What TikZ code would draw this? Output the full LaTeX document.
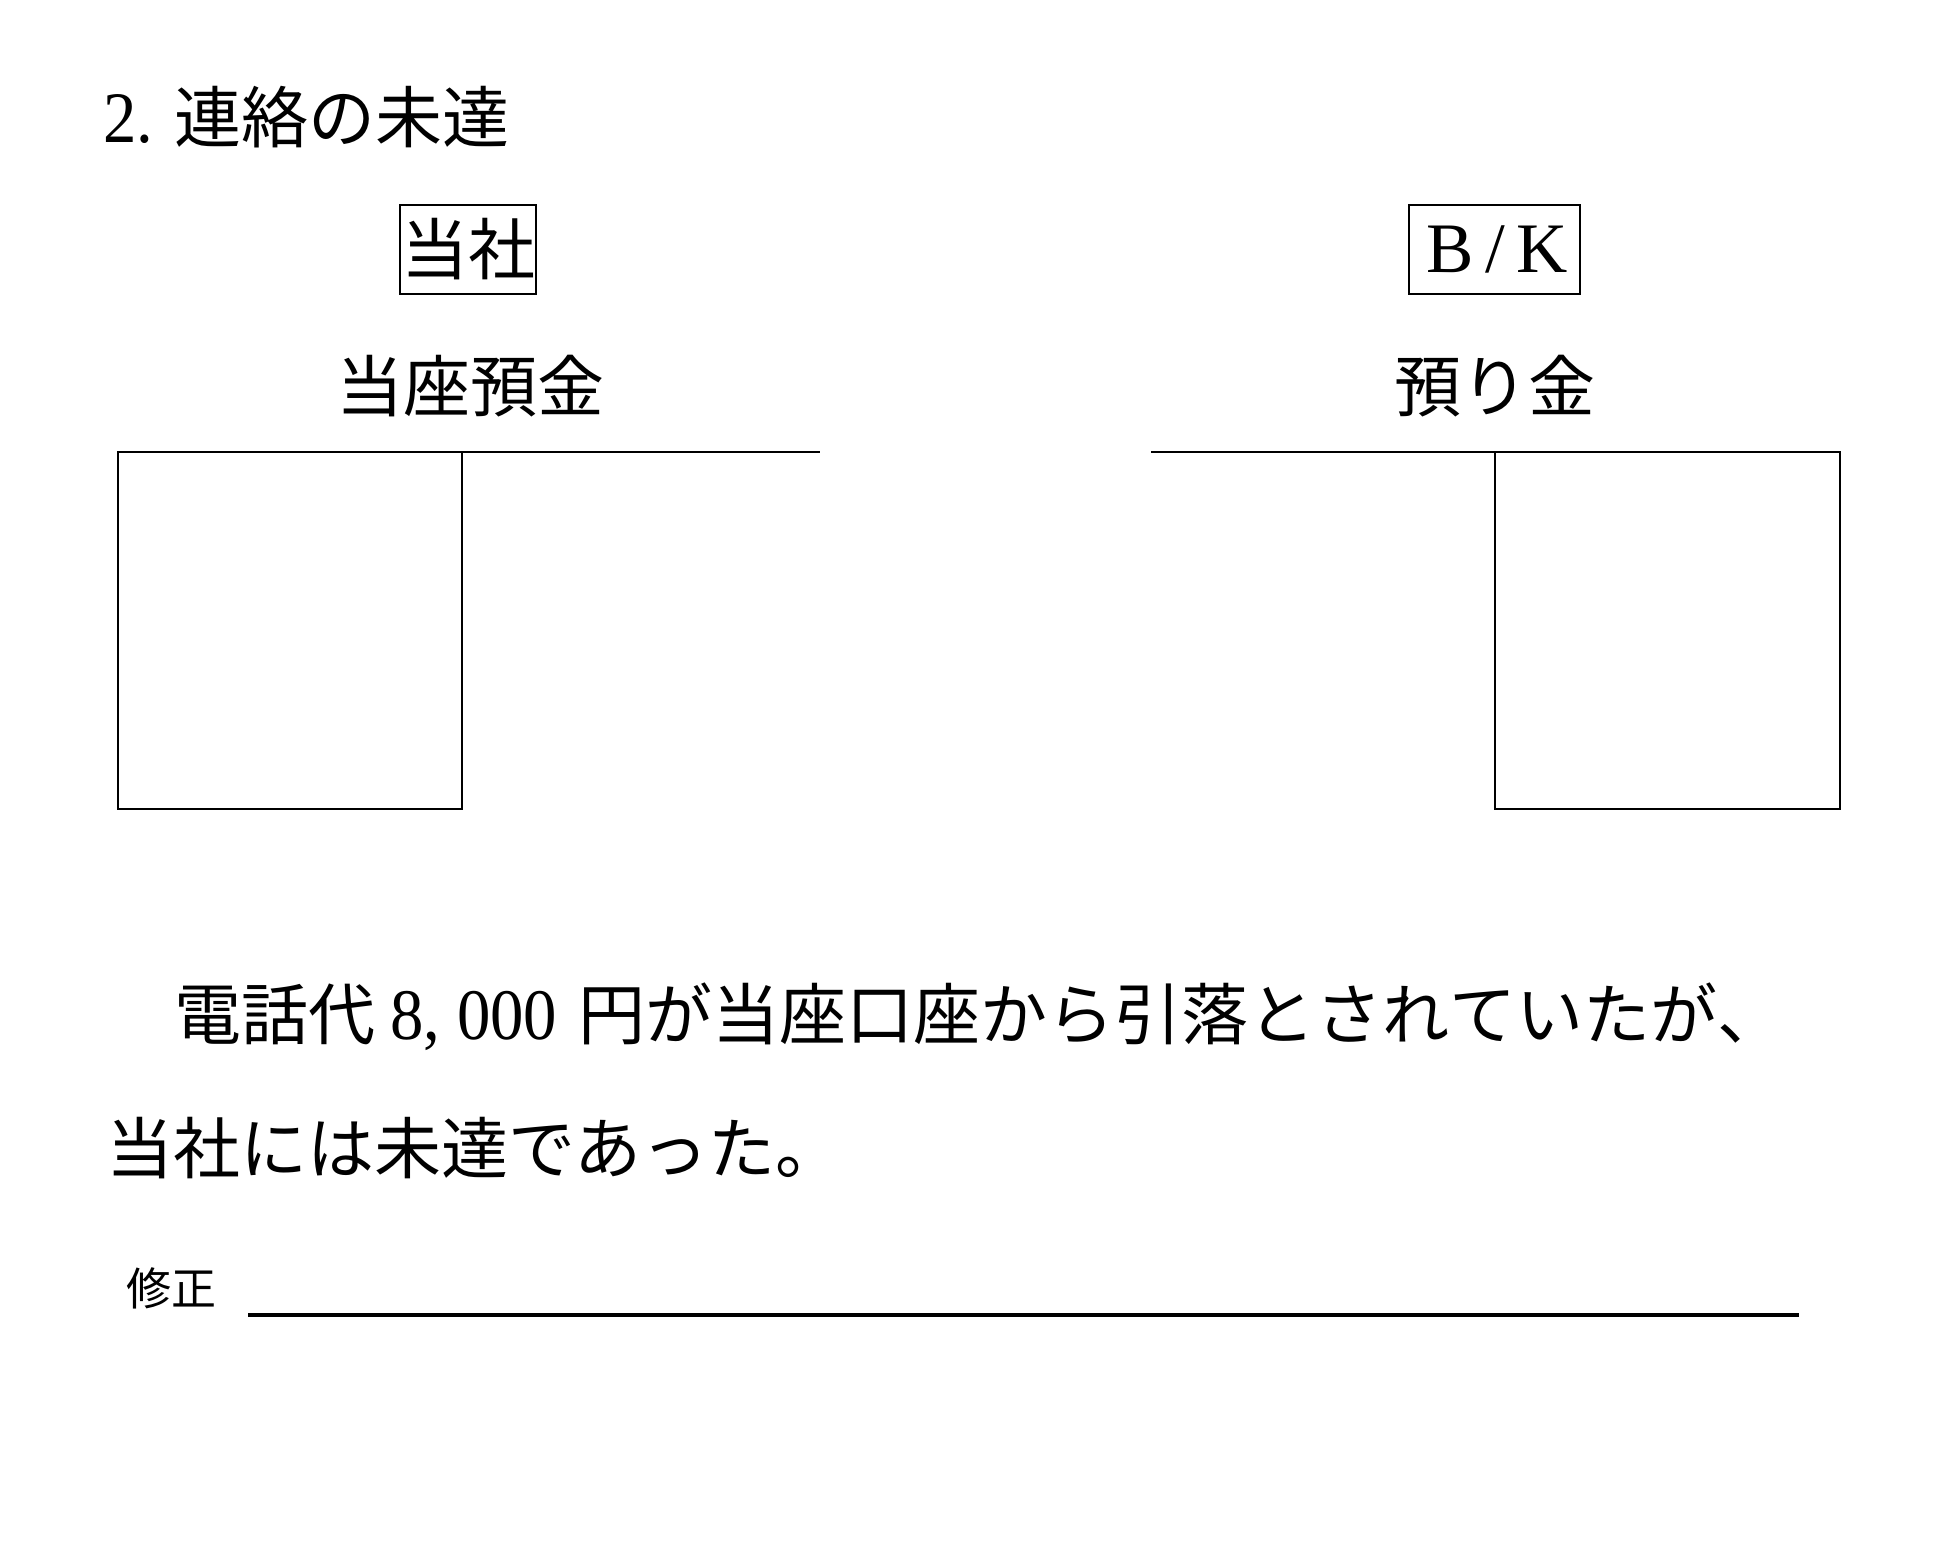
\documentclass[tikz,border=0pt]{standalone}
\usepackage{fontspec}
\usepackage{graphicx}
\newfontfamily\jpfont{Noto Sans CJK JP}
\newfontfamily\latfont{Liberation Serif}
\newcommand\latn[1]{\scalebox{0.92}[1]{\latfont\fontsize{36.25pt}{44pt}\selectfont #1}}
\newcommand\latbk[1]{{\latfont\fontsize{35.5pt}{42pt}\selectfont #1}}
\begin{document}
\begin{tikzpicture}[x=0.5pt,y=-0.5pt]
\tikzset{
  jp/.style={inner sep=0pt, font=\jpfont\fontsize{33.5pt}{40pt}\selectfont},
  jpsmall/.style={inner sep=0pt, font=\jpfont\fontsize{22.5pt}{27pt}\selectfont},
  latin/.style={inner sep=0pt},
  frame/.style={draw, line width=1.2pt, inner sep=0pt, minimum height=44.3pt},
  acct/.style={line width=1.2pt},
  fixline/.style={line width=2pt},
}
\fill[white] (0,0) rectangle (1949,1556);
\useasboundingbox (0,0) rectangle (1949,1556);

% title
\node[jp, anchor=base west] (title) at (103,142.5) {\latn{2.}\hspace{10.5pt}連絡の未達};

% header boxes
\node[frame, minimum width=67.8pt] (sha) at (468,249.5) {};
\node[jp] (shatxt) at (sha.center) {当社};
\node[frame, minimum width=85.3pt] (bk) at (1494.5,249.5) {};
\node[latin, anchor=base] (bktxt) at (1497,273) {\latbk{B\kern5.8pt/\kern5.9pt K}};

% account names
\node[jp] (acc1) at (470.5,386) {当座預金};
\node[jp] (acc2) at (1495,386) {預り金};

% left T-account
\draw[acct] (118,452) -- (820,452);
\draw[acct] (118,452) rectangle (462,809);

% right T-account
\draw[acct] (1151,452) -- (1840,452);
\draw[acct] (1495,452) rectangle (1840,809);

% text line 1
\node[jp, anchor=base west] (l1a) at (174,1039) {電話代};
\node[latin, anchor=base west] (l1b) at (390,1039) {\latn{8, 000}};
\node[jp, anchor=base west] (l1c) at (578,1039) {\makebox[599pt][s]{円\hfil が\hfil 当\hfil 座\hfil 口\hfil 座\hfil か\hfil ら\hfil 引\hfil 落\hfil と\hfil さ\hfil れ\hfil て\hfil い\hfil た\hfil が\hfil 、}};

% text line 2
\node[jp, anchor=base west] (l2) at (106,1173.5) {当社には未達であった。};

% correction
\node[jpsmall, anchor=west] (fix) at (126,1288) {修正};
\coordinate (fixL) at (248,1315);
\coordinate (fixR) at (1799,1315);
\draw[fixline] (fixL) -- (fixR);
\end{tikzpicture}
\end{document}
